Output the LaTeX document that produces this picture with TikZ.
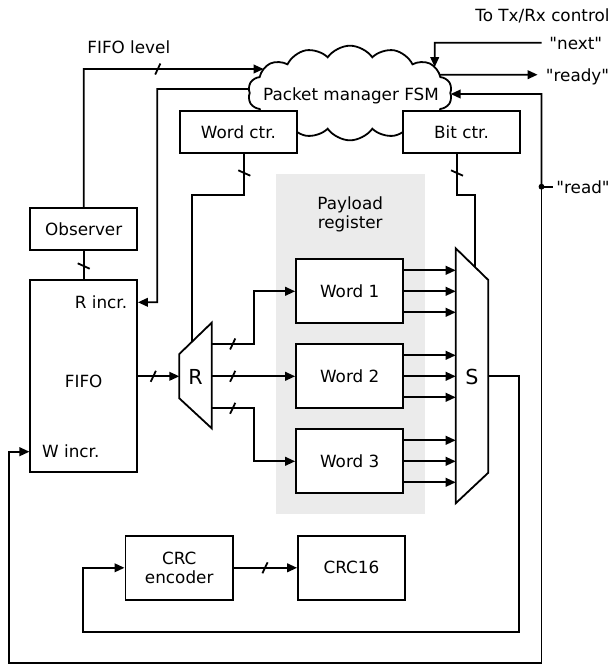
\documentclass[tikz,border=0pt]{standalone}
\usepackage{fontspec}
\setmainfont{DejaVu Sans}[Ligatures=TeXOff]
\usetikzlibrary{arrows.meta,shapes.symbols,calc,intersections}
\definecolor{payloadgray}{RGB}{235,235,235}
\newcommand{\bustickh}[1]{\draw #1 ++(-2.6,5.5) -- ++(5.2,-11);}
\newcommand{\bustickv}[1]{\draw #1 ++(-6,-2.7) -- ++(12,5.4);}
\begin{document}
\begin{tikzpicture}[x=0.75pt,y=-0.75pt,line width=1.35pt,
  every node/.style={font=\fontsize{12.6pt}{14.25pt}\selectfont},
  box/.style={draw,fill=white,inner sep=0pt,align=center},
  ctrbox/.style={box,minimum width=87.75pt,minimum height=31.5pt},
  sidebox/.style={box,minimum width=80pt},
  wordbox/.style={box,minimum width=80.5pt,minimum height=48pt},
  arr/.style={-{Triangle[length=7.5pt,width=6.5pt]}},
  lbl/.style={inner sep=0pt},
  muxlbl/.style={inner sep=0pt,font=\fontsize{15.5pt}{18pt}\selectfont},
  fsmcloud/.style={cloud,draw,fill=white,cloud puffs=14,cloud puff arc=110,
    minimum width=153pt,minimum height=71pt,inner sep=0pt}
]
\useasboundingbox (0,0) rectangle (610,669);

% payload register background
\fill[payloadgray] (275.8,174) rectangle (424.6,514.3);
\node[lbl,align=center] (plbl) at (350.2,214.5) {Payload\\register};

% FSM cloud
\node[fsmcloud,name path=fsmb] (fsm) at (350,93) {};
\node[lbl,anchor=base] (fsmtxt) at (351,100) {Packet manager FSM};

% boxes
\node[ctrbox] (wc) at (238.5,132) {Word ctr.};
\node[ctrbox] (bc) at (461.5,132) {Bit ctr.};
\node[sidebox,minimum height=31.7pt] (obs) at (83.7,229) {Observer};
\node[sidebox,minimum height=144.2pt] (fifo) at (83.7,376.2) {};
\node[lbl] (fifotxt) at (83.7,381) {FIFO};
\node[lbl,anchor=east] (rinc) at (128,302.3) {R incr.};
\node[lbl,anchor=west] (winc) at (41.3,451.7) {W incr.};
\node[wordbox] (w1) at (349.7,291.3) {Word 1};
\node[wordbox] (w2) at (349.7,376.3) {Word 2};
\node[wordbox] (w3) at (349.7,461.3) {Word 3};
\node[box,minimum width=80.7pt,minimum height=48.2pt] (crc) at (179.2,567.8) {CRC\\encoder};
\node[box,minimum width=80.25pt,minimum height=48.2pt] (crc16) at (351.5,567.8) {CRC16};

% multiplexers
\draw[fill=white] (179.3,354) -- (211.7,322.7) -- (211.7,428.3) -- (179.3,398.3) -- cycle;
\node[muxlbl] (rmux) at (195.5,377) {R};
\draw[fill=white] (455.7,248.3) -- (488.3,280) -- (488.3,472.7) -- (455.7,503.3) -- cycle;
\node[muxlbl] (smux) at (472,377) {S};

\coordinate (Rin) at (179.3,376.3);
\coordinate (Rtop) at (191.7,342);
\coordinate (Ro1) at (211.7,344);
\coordinate (Ro2) at (211.7,376.3);
\coordinate (Ro3) at (211.7,408.3);
\coordinate (Sx) at (455.7,0);
\coordinate (Stop) at (475,267);
\coordinate (Sout) at (488.3,376.3);
\coordinate (wcx) at (244.3,0);
\coordinate (bcx) at (457,0);

% outer labels
\node[lbl,anchor=base west] (txrx) at (474.5,21.7) {To Tx/Rx control};
\node[lbl,anchor=base west] (nextlbl) at (548.5,49.5) {"next"};
\node[lbl,anchor=base west] (readylbl) at (545,81.3) {"ready"};
\node[lbl,anchor=base west] (readlbl) at (555.5,193.3) {"read"};
\node[lbl,anchor=base west] (lvllbl) at (86.5,53.3) {FIFO level};

% cloud attachment points
\path[name path=lvlp] (60,69) -- (350,69);
\path[name intersections={of=lvlp and fsmb,sort by=lvlp,name=iA}];
\path[name path=rincp] (60,89) -- (350,89);
\path[name intersections={of=rincp and fsmb,sort by=rincp,name=iB}];
\path[name path=nextp] (434.7,20) -- (434.7,93);
\path[name intersections={of=nextp and fsmb,sort by=nextp,name=iC}];
\path[name path=readyp] (600,74.7) -- (350,74.7);
\path[name intersections={of=readyp and fsmb,sort by=readyp,name=iD}];
\path[name path=readp] (600,94) -- (350,94);
\path[name intersections={of=readp and fsmb,sort by=readp,name=iE}];

% connectors to / from FSM
\draw[arr] (obs.north) -- (83.7,69) -- (iA-1);
\bustickh{(157.8,69)}
\draw[arr] (iB-1) -- (157.3,89) -- (157.3,302.3) -- (fifo.east |- rinc);
\coordinate (nexts) at (541.5,42.7);
\draw[arr] (nexts) -- (434.7,42.7) -- (iC-1);
\draw[arr] (iD-1) -- (537.6,74.7);
\coordinate (rd) at (541.5,186.7);
\draw[arr] (rd) -- (541.5,94) -- (iE-1);
\draw[arr] (rd) -- (541.5,662.7) -- (9,662.7) -- (9,451.7) -- (fifo.west |- winc);
\fill (rd) circle[radius=2.2pt];
\draw (rd) -- (552.5,186.7);

% counters
\draw (wc.south -| wcx) -- (244.3,195) -- (191.7,195) -- (Rtop);
\bustickv{(244.3,173)}
\draw (bc.south -| bcx) -- (457,195) -- (475,195) -- (Stop);
\bustickv{(457,173)}

% observer / fifo
\draw (obs.south) -- (fifo.north);
\bustickv{(83.7,266)}

% fifo -> R
\draw[arr] (fifo.east |- Rin) -- (Rin);
\bustickh{(153.3,376.3)}

% R -> words
\draw[arr] (Ro1) -- (254,344) |- (w1.west);
\draw[arr] (Ro2) -- (w2.west);
\draw[arr] (Ro3) -- (254,408.3) |- (w3.west);
\bustickh{(232.7,344)}
\bustickh{(232.7,376.3)}
\bustickh{(232.7,408.3)}

% words -> S
\foreach \w in {w1,w2,w3}{
  \foreach \o in {-21,0,21}{
    \path ($(\w.east)+(0,\o)$) coordinate (p);
    \draw[arr] (p) -- (p -| Sx);
  }
}

% S -> CRC
\draw[arr] (Sout) -- (519.3,376.3) -- (519.3,631.7) -- (83,631.7) -- (83,567.8) -- (crc.west);
\draw[arr] (crc.east) -- (crc16.west);
\bustickh{(265,567.8)}
\end{tikzpicture}
\end{document}
